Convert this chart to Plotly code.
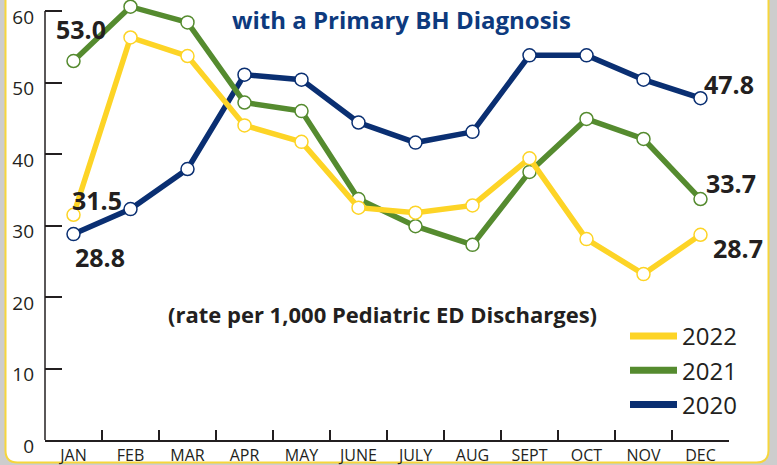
import plotly.graph_objects as go

months = ["JAN", "FEB", "MAR", "APR", "MAY", "JUNE", "JULY", "AUG", "SEPT", "OCT", "NOV", "DEC"]
y2020 = [28.8, 32.3, 37.9, 51.1, 50.4, 44.4, 41.6, 43.1, 53.8, 53.8, 50.4, 47.8]
y2021 = [53.0, 60.6, 58.4, 47.2, 46.0, 33.7, 29.9, 27.3, 37.5, 44.9, 42.1, 33.7]
y2022 = [31.5, 56.3, 53.7, 44.0, 41.7, 32.5, 31.8, 32.8, 39.4, 28.1, 23.2, 28.7]
y_ticks = [0, 10, 20, 30, 40, 50, 60]

series = [
    ("2020", y2020, "#0a2f72"),
    ("2021", y2021, "#558b2f"),
    ("2022", y2022, "#fdd426"),
]

FONT = "Open Sans, Noto Sans, sans-serif"
TXT = "#231f20"
W, H = 777, 465
L, R, T, B = 45, 48, 0, 25
pw, ph = W - L - R, H - T - B
YTOP = 60 + 11 * 60 / 429


def px(x):
    return (x - L) / pw


def py(y):
    return (H - B - y) / ph


fig = go.Figure()
for name, vals, col in series:
    fig.add_trace(go.Scatter(
        x=months, y=vals, mode="lines+markers", name=name, showlegend=False,
        line=dict(color=col, width=5.5),
        marker=dict(size=13, color="white", line=dict(color=col, width=1.5)),
        cliponaxis=False, hoverinfo="skip",
    ))
for name, vals, col in reversed(series):
    fig.add_trace(go.Scatter(
        x=[None], y=[None], mode="lines", name=name, legendgroup=name,
        line=dict(color=col, width=7),
    ))

lab = dict(size=25, color=TXT, family=FONT)
fig.add_annotation(x=months[0], y=y2021[0], text="<b>53.0</b>", showarrow=False,
                   xshift=7, yshift=32, xanchor="center", font=lab)
fig.add_annotation(x=months[0], y=y2022[0], text="<b>31.5</b>", showarrow=False,
                   xshift=23, yshift=15, xanchor="center", font=lab)
fig.add_annotation(x=months[0], y=y2020[0], text="<b>28.8</b>", showarrow=False,
                   xshift=26, yshift=-23, xanchor="center", font=lab)
fig.add_annotation(x=months[-1], y=y2020[-1], text="<b>47.8</b>", showarrow=False,
                   xshift=1, yshift=14, xanchor="left", font=lab)
fig.add_annotation(x=months[-1], y=y2021[-1], text="<b>33.7</b>", showarrow=False,
                   xshift=3, yshift=16, xanchor="left", font=lab)
fig.add_annotation(x=months[-1], y=y2022[-1], text="<b>28.7</b>", showarrow=False,
                   xshift=10, yshift=-13, xanchor="left", font=lab)

fig.add_annotation(xref="paper", yref="paper", x=px(401), y=py(19), text="<b>with a Primary BH Diagnosis</b>",
                   showarrow=False, font=dict(size=24, color="#0d3a7e", family=FONT),
                   xanchor="center", yanchor="middle")
fig.add_annotation(xref="paper", yref="paper", x=px(382), y=py(314),
                   text="<b>(rate per 1,000 Pediatric ED Discharges)</b>",
                   showarrow=False, font=dict(size=22, color=TXT, family=FONT),
                   xanchor="center", yanchor="middle")

lx, rx, ty, by, r = 5.5, 768.5, -20, 462.5, 12
path = (f"M {px(lx)},{py(ty)} L {px(lx)},{py(by - r)} Q {px(lx)},{py(by)} {px(lx + r)},{py(by)} "
        f"L {px(rx - r)},{py(by)} Q {px(rx)},{py(by)} {px(rx)},{py(by - r)} L {px(rx)},{py(ty)} Z")
fig.add_shape(type="path", path=path, xref="paper", yref="paper", layer="below",
              fillcolor="white", line=dict(color="#f6d63c", width=2))

fig.add_shape(type="line", xref="paper", yref="y", x0=0, x1=0, y0=y_ticks[0], y1=y_ticks[-1],
              line=dict(color=TXT, width=1.5), layer="above")

fig.update_layout(
    width=W, height=H,
    margin=dict(l=L, r=R, t=T, b=B, autoexpand=False),
    paper_bgcolor="#cdcdcd", plot_bgcolor="rgba(0,0,0,0)",
    font=dict(family=FONT, color=TXT),
    legend=dict(x=px(625), y=py(314), xanchor="left", yanchor="top",
                font=dict(size=24, color=TXT, family=FONT), bgcolor="rgba(0,0,0,0)",
                tracegroupgap=0, itemwidth=47),
    xaxis=dict(range=[-0.5, 11.5], showgrid=False, showline=True, linecolor=TXT, linewidth=1.5,
               ticks="inside", ticklen=10, tickcolor=TXT, tickwidth=1.5, tickson="boundaries",
               tickfont=dict(size=16, color=TXT), zeroline=False, automargin=False),
    yaxis=dict(range=[0, YTOP], tickvals=y_ticks, showgrid=False, showline=False,
               ticks="inside", ticklen=17, tickcolor=TXT, tickwidth=1.5,
               tickfont=dict(size=19, color=TXT), ticklabelshift=6, ticklabelstandoff=10,
               ticklabeloverflow="allow", zeroline=False, automargin=False),
)

fig.write_html("out.html", config={"displayModeBar": False},
               post_script="document.body.style.margin='0';document.body.style.overflow='hidden';")
